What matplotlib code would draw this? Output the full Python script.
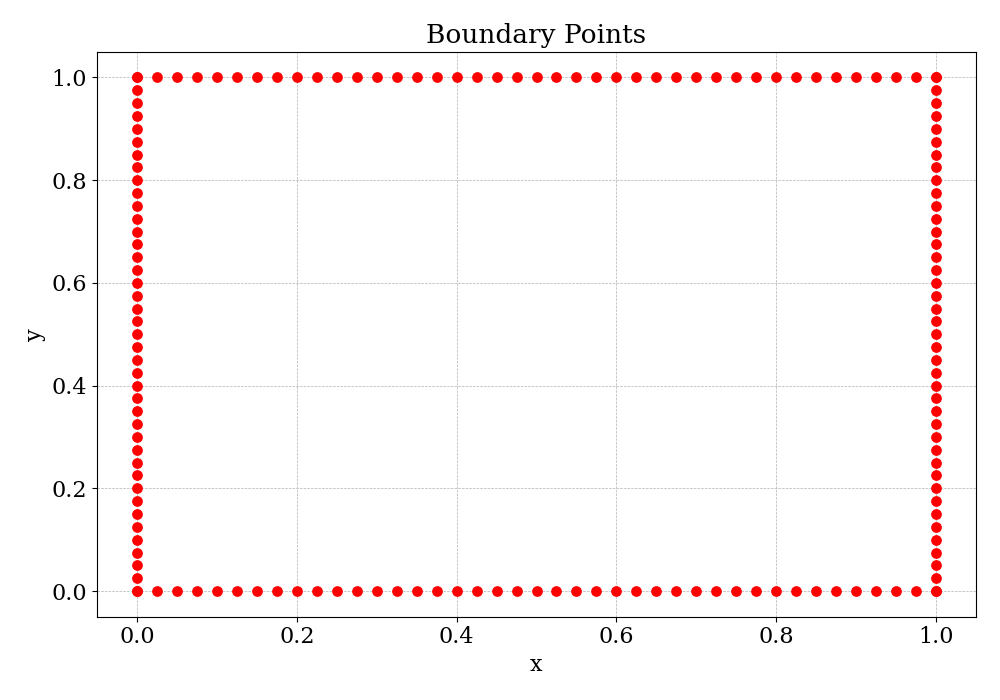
import numpy as np
import matplotlib
matplotlib.use("Agg")
import matplotlib.pyplot as plt

# Points along one side of the unit square (spacing 0.025)
side = [
    0.0, 0.025, 0.05, 0.075, 0.1, 0.125, 0.15, 0.175, 0.2, 0.225,
    0.25, 0.275, 0.3, 0.325, 0.35, 0.375, 0.4, 0.425, 0.45, 0.475,
    0.5, 0.525, 0.55, 0.575, 0.6, 0.625, 0.65, 0.675, 0.7, 0.725,
    0.75, 0.775, 0.8, 0.825, 0.85, 0.875, 0.9, 0.925, 0.95, 0.975, 1.0,
]
lo, hi = 0.0, 1.0

side = np.array(side)
n = len(side)

# bottom, top, left, right
bx = np.concatenate([side, side, np.full(n, lo), np.full(n, hi)])
by = np.concatenate([np.full(n, lo), np.full(n, hi), side, side])

plt.rcParams["font.family"] = "DejaVu Serif"

fig, ax = plt.subplots(figsize=(10, 7), dpi=100)
ax.scatter(bx, by, c="red", s=45, zorder=3)

ax.set_title("Boundary Points", fontsize=19)
ax.set_xlabel("x", fontsize=16)
ax.set_ylabel("y", fontsize=16)
ax.tick_params(labelsize=16)
ax.grid(True, linestyle="--", linewidth=0.5, color="#b0b0b0")

fig.subplots_adjust(left=0.097, right=0.976, top=0.926, bottom=0.119)
plt.savefig("out.png", dpi=100)
